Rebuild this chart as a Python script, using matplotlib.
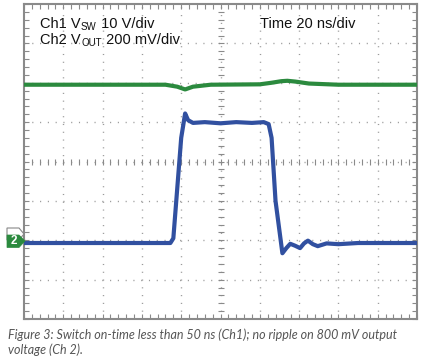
import numpy as np
import matplotlib
matplotlib.use("Agg")
import matplotlib.pyplot as plt
from matplotlib.patches import Polygon

plt.rcParams['font.family'] = ['Liberation Sans', 'DejaVu Sans']

# time in ns (20 ns/div, 10 div), level in divisions from screen centre
ch1_t = [0, 60, 72, 78, 82, 86, 95, 120, 126, 131, 134, 138, 145, 160, 200]
ch1_v = [1.95, 1.95, 1.95, 1.90, 1.83, 1.90, 1.95, 1.96, 2.0, 2.04, 2.05, 2.03, 1.98, 1.95, 1.95]

ch2_t = [0, 74.5, 76, 80, 82, 83.5, 86, 92, 100, 108, 116, 122, 124.5, 126,
         128, 131.5, 133.5, 135.5, 138, 140.5, 142.5, 144.5, 147, 149.5, 154, 160, 170, 200]
ch2_v = [-2.07, -2.07, -1.95, 0.6, 1.22, 1.05, 0.98, 1.0, 0.97, 1.0, 0.98, 1.0, 0.95, 0.6,
         -1.0, -2.33, -2.2, -2.09, -2.14, -2.2, -2.08, -2.01, -2.1, -2.15, -2.08, -2.1, -2.07, -2.07]

green = '#2b8a3e'
blue = '#3150a0'
frame = '#8a8a8a'

fig = plt.figure(figsize=(4.42, 3.6), dpi=100)
ax = fig.add_axes([24/442, 41/360, 393/442, 315/360])
ax.set_xlim(0, 200)
ax.set_ylim(-4, 4)

# dotted graticule
for x in np.arange(20, 200, 20):
    ax.axvline(x, color='#9a9a9a', lw=1.0, ls=(0, (0.8, 4.8)), zorder=1)
for y in np.arange(-3, 4, 1):
    ax.axhline(y, color='#9a9a9a', lw=1.0, ls=(0, (0.8, 4.8)), zorder=1)

# centre crosshair tick marks
mx = np.arange(4, 200, 4)
my = np.arange(-3.8, 4, 0.2)
ax.plot(mx, np.zeros_like(mx), ls='none', marker='|', ms=5, mew=0.8, color='#8a8a8a', zorder=1)
ax.plot(np.full_like(my, 100), my, ls='none', marker='_', ms=5, mew=0.8, color='#8a8a8a', zorder=1)

# border ticks
ax.set_xticks(np.arange(0, 201, 4))
ax.set_yticks(np.arange(-4, 4.01, 0.2))
ax.tick_params(direction='in', length=3.5, width=0.8, color=frame,
               top=True, right=True, labelbottom=False, labelleft=False)
for s in ax.spines.values():
    s.set_color(frame)
    s.set_linewidth(1.5)

ax.plot(ch1_t, ch1_v, color=green, lw=3.0, solid_joinstyle='round', zorder=3)
ax.plot(ch2_t, ch2_v, color=blue, lw=3.0, solid_joinstyle='round', zorder=3)


def label(x, y, head, sub, tail):
    t1 = ax.text(x, y, head, transform=ax.transAxes, fontsize=10.5, color='#111111',
                 va='baseline', ha='left')
    t2 = ax.annotate(sub, xy=(1, 0), xycoords=t1, xytext=(0.3, -0.8), textcoords='offset points',
                     fontsize=7, color='#111111', va='bottom', ha='left')
    ax.annotate(tail, xy=(1, 0), xycoords=t2, xytext=(0, 0.8), textcoords='offset points',
                fontsize=10.5, color='#111111', va='bottom', ha='left')


label(16/393, 1 - 24/315, 'Ch1 V', 'SW', ' 10 V/div')
label(16/393, 1 - 40/315, 'Ch2 V', 'OUT', ' 200 mV/div')
ax.text(236/393, 1 - 24/315, 'Time 20 ns/div', transform=ax.transAxes,
        fontsize=10.5, color='#111111', va='baseline', ha='left')

# channel markers on left edge
fx = lambda px: px / 442
fy = lambda py: 1 - py / 360
m1 = Polygon([(fx(7), fy(228)), (fx(19), fy(228)), (fx(24), fy(234)), (fx(19), fy(240)), (fx(7), fy(240))],
             closed=True, transform=fig.transFigure, facecolor='white', edgecolor='#888888', lw=0.8, zorder=4)
fig.patches.append(m1)
fig.text(fx(12), fy(231.5), '1', color='#666666', fontsize=6, ha='center', va='center')
m2 = Polygon([(fx(7), fy(235)), (fx(19), fy(235)), (fx(25), fy(241)), (fx(19), fy(247.5)), (fx(7), fy(247.5))],
             closed=True, transform=fig.transFigure, facecolor=green, edgecolor=green, lw=0.5, zorder=5)
fig.patches.append(m2)
fig.text(fx(13.5), fy(241.5), '2', color='white', fontsize=8.5, fontweight='bold',
         ha='center', va='center', zorder=6)

fig.text(8/442, fy(339), 'Figure 3: Switch on-time less than 50 ns (Ch1); no ripple on 800 mV output',
         fontsize=9.0, family=['Lato', 'DejaVu Sans'], style='italic', color='#555555', va='baseline')
fig.text(8/442, fy(354), 'voltage (Ch 2).',
         fontsize=9.0, family=['Lato', 'DejaVu Sans'], style='italic', color='#555555', va='baseline')

fig.savefig('out.png', dpi=100)
